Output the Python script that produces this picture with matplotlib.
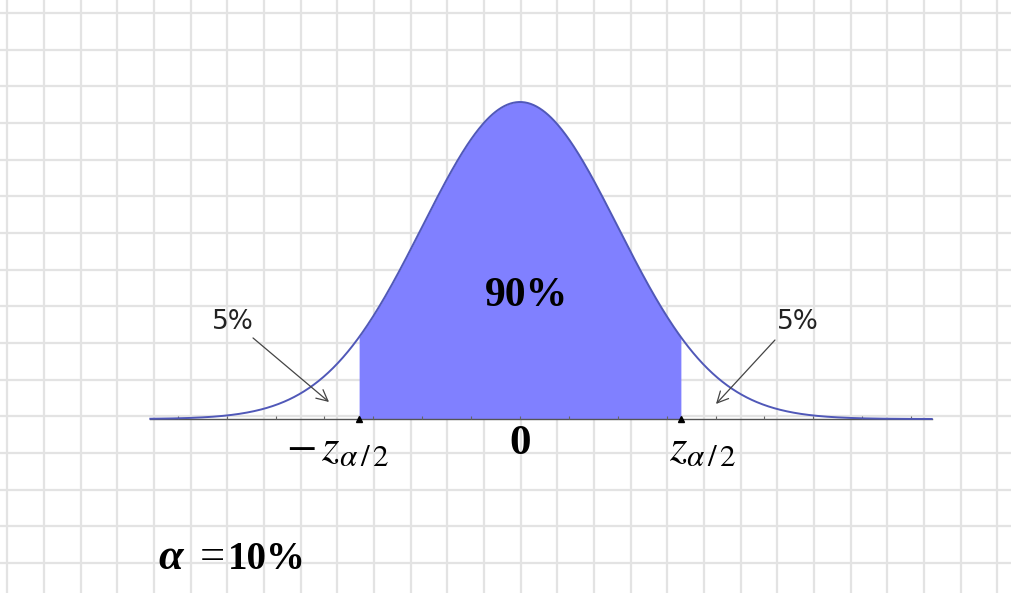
import numpy as np
import matplotlib
matplotlib.use("Agg")
import matplotlib.pyplot as plt

# ---- data ----
z_crit = 1.645                      # z_{alpha/2} for alpha = 10%
axis_range = [-3.78, 4.21]          # extent of the drawn axis (in sigma units)
tick_values = np.arange(-3.5, 4.01, 0.5)
center_label = "90%"
tail_labels = ["5%", "5%"]
alpha_label = "10%"

plt.rcParams['mathtext.fontset'] = 'stix'

W, H = 1012, 593
fig = plt.figure(figsize=(W / 100, H / 100), dpi=100)

# ---- graph-paper background ----
bg = fig.add_axes([0, 0, 1, 1], zorder=0)
bg.set_xlim(0, W)
bg.set_ylim(H, 0)
step = 36.67
bg.set_xticks(np.arange(7.3, W, step))
bg.set_yticks(np.arange(13.0, H, step))
bg.grid(True, color='#e3e3e3', lw=1.6)
bg.tick_params(length=0, labelbottom=False, labelleft=False)
for s in bg.spines.values():
    s.set_visible(False)
bg.set_facecolor('white')

# ---- main axes in sigma / pdf units ----
ax = fig.add_axes([0, 0, 1, 1], zorder=1)
ax.patch.set_alpha(0)
px_per_x = 97.8
px_per_y = 794.6
x0_px, y0_px = 520, 419
ax.set_xlim(-x0_px / px_per_x, (W - x0_px) / px_per_x)
ax.set_ylim(-(H - y0_px) / px_per_y, y0_px / px_per_y)
ax.axis('off')

def pdf(x):
    return np.exp(-x ** 2 / 2) / np.sqrt(2 * np.pi)

x = np.linspace(axis_range[0], axis_range[1], 800)
xs = np.linspace(-z_crit, z_crit, 400)

# shaded area
ax.fill_between(xs, 0, pdf(xs), color='#8080ff', lw=0, zorder=2)
# axis line
ax.plot(axis_range, [0, 0], color='#555555', lw=1.0, zorder=3)
# tick marks
ax.vlines(tick_values, 0, 0.004, color='#666666', lw=0.8, zorder=3)
# curve
ax.plot(x, pdf(x), color='#5058b8', lw=1.4, zorder=4)
# critical points markers
ax.plot([-z_crit, z_crit], [0, 0], marker='^', ls='none', color='black', ms=4, zorder=5)

# labels
ax.text(0.07, 0.155, center_label, ha='center', va='center', fontsize=30,
        family='Liberation Serif', weight='bold', zorder=6)
ax.text(0, -0.031, '0', ha='center', va='center', fontsize=31,
        family='Liberation Serif', weight='bold', zorder=6)
ax.text(-1.86, -0.036, r'$-\,z_{\alpha\,/\,2}$', ha='center', va='center',
        fontsize=32, zorder=6)
ax.text(1.87, -0.036, r'$z_{\alpha\,/\,2}$', ha='center', va='center',
        fontsize=32, zorder=6)

# tail labels with arrows
ax.text(-2.935, 0.122, tail_labels[0], ha='center', va='center', fontsize=19,
        family='DejaVu Sans', color='#222222', zorder=6)
ax.text(2.843, 0.122, tail_labels[1], ha='center', va='center', fontsize=19,
        family='DejaVu Sans', color='#222222', zorder=6)
ax.annotate('', xy=(-1.953, 0.0214), xytext=(-2.73, 0.102),
            arrowprops=dict(arrowstyle='->', color='#444444', lw=0.9,
                            mutation_scale=20, shrinkA=0, shrinkB=0), zorder=6)
ax.annotate('', xy=(2.004, 0.0189), xytext=(2.607, 0.0994),
            arrowprops=dict(arrowstyle='->', color='#444444', lw=0.9,
                            mutation_scale=20, shrinkA=0, shrinkB=0), zorder=6)

# alpha = 10%
base = -0.1885
ax.text(-3.70, base, 'α', ha='left', va='baseline', fontsize=32,
        family='Liberation Serif', weight='bold', style='italic', zorder=6)
ax.text(-3.27, base, '=', ha='left', va='baseline', fontsize=32,
        family='Liberation Serif', zorder=6)
ax.text(-2.99, base, alpha_label, ha='left', va='baseline', fontsize=28,
        family='Liberation Serif', weight='bold', zorder=6)

fig.savefig('out.png', dpi=100)
